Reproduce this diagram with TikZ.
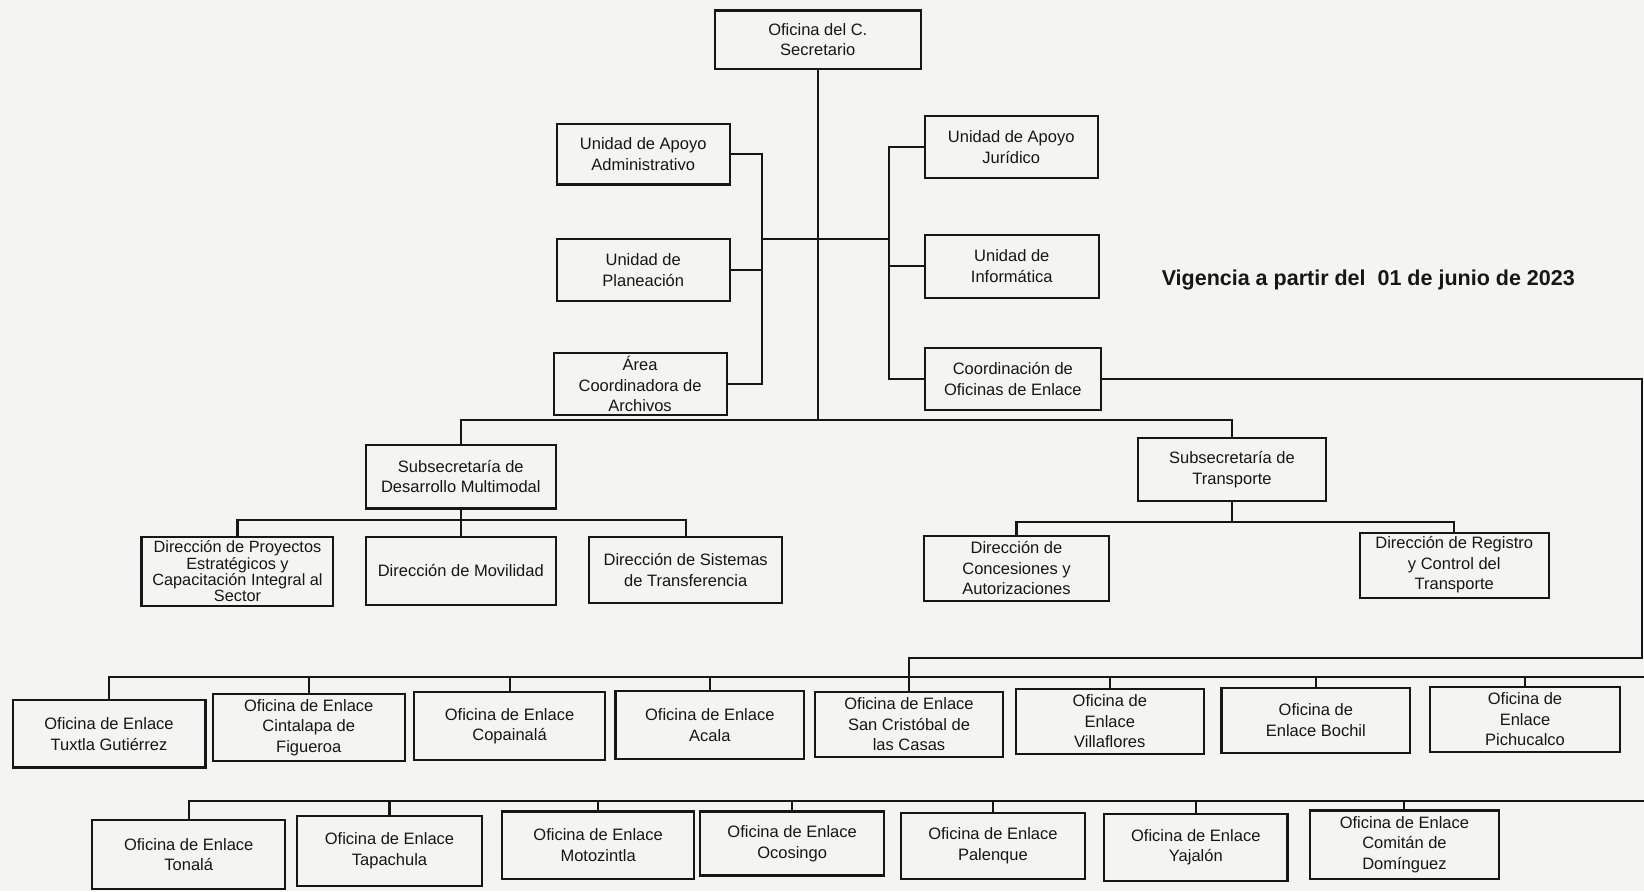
\documentclass[tikz,border=0pt]{standalone}
\usepackage{fontspec}
\setmainfont{Liberation Sans}
\definecolor{paper}{RGB}{244,244,242}
\definecolor{ink}{RGB}{22,22,22}
\newcommand{\orgbox}[7][]{\node[box,#1,minimum width={(#5-#3)*1.0485pt},minimum height={(#6-#4)*1.0485pt}] (#2) at ({(#3+#5)/2},{(#4+#6)/2}) {#7};}
\begin{document}
\begin{tikzpicture}[x=1.0485pt,y=-1.0485pt,
  box/.style={draw=ink,line width=2.1pt,fill=paper,align=center,inner sep=1pt,text=ink,
    font=\fontsize{16.5}{20.5}\selectfont},
  tight/.style={font=\fontsize{16.3}{16.4}\selectfont},
  conn/.style={draw=ink,line width=2.1pt,line cap=rect}]
\fill[paper] (0,0) rectangle (1568,850);
\useasboundingbox (0,0) rectangle (1568,850);

% top
\orgbox{sec}{682}{10}{878}{66}{Oficina del C.\\Secretario}
\orgbox{uaa}{531}{118}{696}{176}{Unidad de Apoyo\\Administrativo}
\orgbox{upl}{531}{228}{696}{287}{Unidad de\\Planeación}
\orgbox{arch}{528}{337}{693}{396}{Área\\Coordinadora de\\Archivos}
\orgbox{uaj}{882}{111}{1047}{170}{Unidad de Apoyo\\Jurídico}
\orgbox{uinf}{882}{224}{1048}{284}{Unidad de\\Informática}
\orgbox{coord}{882}{332}{1050}{391}{Coordinación de\\Oficinas de Enlace}

\node[font=\bfseries\fontsize{21.5}{26}\selectfont,text=ink] (vig) at (1305,267) {Vigencia a partir del \ 01 de junio de 2023};

% subsecretarias
\orgbox{smm}{349}{424}{530}{485}{Subsecretaría de\\Desarrollo Multimodal}
\orgbox{strn}{1085}{418}{1265}{478}{Subsecretaría de\\Transporte}

\orgbox[tight]{dpe}{135}{512}{318}{578}{Dirección de Proyectos\\Estratégicos y\\Capacitación Integral al\\Sector}
\orgbox{dmov}{349}{512}{530}{577}{Dirección de Movilidad}
\orgbox{dst}{562}{512}{746}{575}{Dirección de Sistemas\\de Transferencia}
\orgbox{dcon}{881}{511}{1058}{573}{Dirección de\\Concesiones y\\Autorizaciones}
\orgbox{dreg}{1297}{508}{1477}{570}{Dirección de Registro\\y Control del\\Transporte}

% row 2
\orgbox{tux}{12}{668}{196}{732}{Oficina de Enlace\\Tuxtla Gutiérrez}
\orgbox{cin}{203}{662}{386}{726}{Oficina de Enlace\\Cintalapa de\\Figueroa}
\orgbox{cop}{395}{660}{577}{725}{Oficina de Enlace\\Copainalá}
\orgbox{aca}{587}{659}{767}{724}{Oficina de Enlace\\Acala}
\orgbox{sc}{777}{660}{957}{722}{Oficina de Enlace\\San Cristóbal de\\las Casas}
\orgbox{vil}{969}{657}{1148}{719}{Oficina de\\Enlace\\Villaflores}
\orgbox{boc}{1165}{656}{1345}{718}{Oficina de\\Enlace Bochil}
\orgbox{pic}{1364}{655}{1545}{717}{Oficina de\\Enlace\\Pichucalco}

% row 3
\orgbox{ton}{88}{782}{272}{848}{Oficina de Enlace\\Tonalá}
\orgbox{tap}{283}{778}{460}{845}{Oficina de Enlace\\Tapachula}
\orgbox{mot}{479}{774}{662}{838}{Oficina de Enlace\\Motozintla}
\orgbox{oco}{668}{774}{843}{835}{Oficina de Enlace\\Ocosingo}
\orgbox{pal}{859}{775}{1035}{838}{Oficina de Enlace\\Palenque}
\orgbox{yaj}{1053}{776}{1228}{840}{Oficina de Enlace\\Yajalón}
\orgbox{com}{1249}{773}{1430}{838}{Oficina de Enlace\\Comitán de\\Domínguez}

% helper coordinates
\coordinate (trunkB) at (780,401);
\coordinate (lb) at (727,228);
\coordinate (rb) at (848,228);
\coordinate (mbus) at (0,496);
\coordinate (tbus) at (0,498);
\coordinate (re) at (1566,0);
\coordinate (loop) at (0,628);
\coordinate (bus2) at (0,646);
\coordinate (bus3) at (0,764);
\coordinate (edge) at (1568,0);

% connectors
\draw[conn] (sec.south) -- (trunkB);
\draw[conn] (lb) -- (rb);
\draw[conn] (uaa.east) -- (uaa.east -| lb) -- (arch.east -| lb) -- (arch.east);
\draw[conn] (upl.east) -- (upl.east -| lb);
\draw[conn] (uaj.west) -- (uaj.west -| rb) -- (coord.west -| rb) -- (coord.west);
\draw[conn] (uinf.west) -- (uinf.west -| rb);

\draw[conn] (smm.north) -- (smm.north |- trunkB) -- (strn.north |- trunkB) -- (strn.north);
\draw[conn] (smm.south) -- (dmov.north);
\draw[conn] (dpe.north) -- (dpe.north |- mbus) -- (dst.north |- mbus) -- (dst.north);
\draw[conn] (strn.south) -- (strn.south |- tbus);
\draw[conn] (dcon.north) -- (dcon.north |- tbus) -- (dreg.north |- tbus) -- (dreg.north);

\draw[conn] (coord.east) -- (coord.east -| re) -- (re |- loop) -- (sc.north |- loop) -- (sc.north);

\draw[conn] (tux.north) -- (tux.north |- bus2) -- (edge |- bus2);
\foreach \n in {cin,cop,aca,vil,boc,pic} \draw[conn] (\n.north) -- (\n.north |- bus2);

\draw[conn] (ton.north) -- (ton.north |- bus3) -- (edge |- bus3);
\foreach \n in {tap,mot,oco,pal,yaj,com} \draw[conn] (\n.north) -- (\n.north |- bus3);
\end{tikzpicture}
\end{document}
